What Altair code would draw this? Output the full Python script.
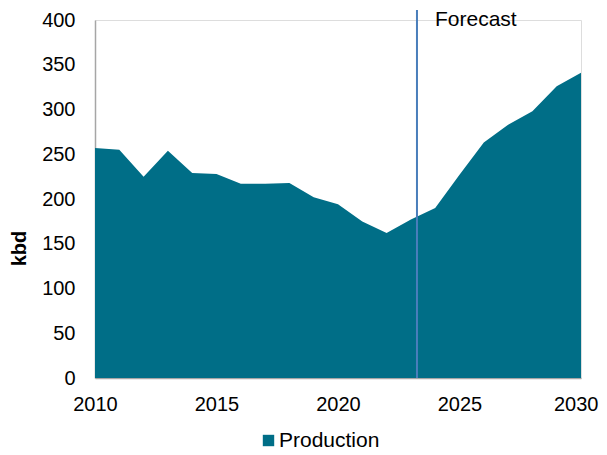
import altair as alt
import pandas as pd

years = list(range(2010, 2031))
production = [257, 255, 225, 254, 229, 228, 217, 217, 218, 202, 194,
              175, 162, 177, 190, 227, 263, 283, 298, 326, 341]
forecast_x = [2023.25]
forecast_label = ["Forecast"]
series_name = "Production"

df = pd.DataFrame({"year": years, "kbd": production, "series": series_name})
fdf = pd.DataFrame({"x": forecast_x, "label": forecast_label})

FONT = "Liberation Sans"

area = alt.Chart(df).mark_area(color="#006e87", opacity=1).encode(
    x=alt.X("year:Q", scale=alt.Scale(domain=[2010, 2030], nice=False, zero=False),
            axis=alt.Axis(values=[2010, 2015, 2020, 2025, 2030], format="d", title=None,
                          grid=False, ticks=False, labelPadding=16, labelFontSize=20,
                          labelFlush=False, labelOverlap=False,
                          labelAlign=alt.condition("datum.value == 2030", alt.value("right"), alt.value("center")),
                          labelOffset=alt.condition("datum.value == 2030", alt.value(17), alt.value(0)),
                          labelColor="#000000", domainColor="#a6a6a6", domainWidth=1.5,
                          labelFont=FONT)),
    y=alt.Y("kbd:Q", scale=alt.Scale(domain=[0, 400], nice=False),
            axis=alt.Axis(values=list(range(0, 401, 50)), title="kbd", grid=False,
                          ticks=False, labelPadding=20, labelFontSize=20,
                          labelFlush=False, labelOverlap=False,
                          labelColor="#000000", domainColor="#a6a6a6", domainWidth=1.5,
                          titleFontSize=20, titleFont=FONT, titleFontWeight="bold",
                          titleColor="#000000", titleX=-76, titleY=228, titleAngle=270,
                          titleAlign="center", titleBaseline="middle", labelFont=FONT)),
    fill=alt.Fill("series:N", scale=alt.Scale(range=["#006e87"]),
                  legend=alt.Legend(title=None, orient="none", legendX=163, legendY=410,
                                    symbolType="square", symbolSize=130,
                                    labelFontSize=21, labelFont=FONT, labelColor="#000000",
                                    symbolStrokeWidth=0, labelOffset=0)),
)

rule = alt.Chart(fdf).mark_rule(color="#4a7ebb", strokeWidth=2).encode(
    x="x:Q", y=alt.value(-10), y2=alt.value(358)
)

text = alt.Chart(fdf).mark_text(align="left", baseline="middle", fontSize=21,
                                font=FONT, color="#000000", dx=18).encode(
    x="x:Q", y=alt.value(0), text="label:N"
)

chart = alt.layer(area, rule, text).properties(
    width=486, height=358,
    autosize=alt.AutoSizeParams(type="none"),
    padding={"left": 87, "top": 12, "right": 18, "bottom": 77},
).configure_view(stroke=None).configure(background="white")

chart.save("out.html", embed_options={"renderer": "svg", "actions": False})
